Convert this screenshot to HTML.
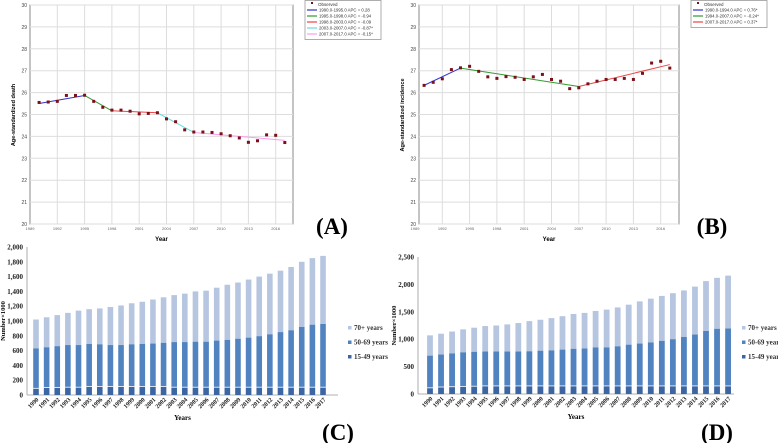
<!DOCTYPE html>
<html><head><meta charset="utf-8"><style>
body{margin:0;background:#fff;}
svg{display:block;font-family:"Liberation Sans",sans-serif;}
.serif{font-family:"Liberation Serif",serif;}
</style></head><body>
<svg id="fig" width="778" height="443" viewBox="0 0 778 443">
<rect x="0" y="0" width="778" height="443" fill="#fff"/>
<text x="332" y="234" class="serif" font-size="23" font-weight="bold" text-anchor="middle">(A)</text>
<text x="712" y="234" class="serif" font-size="23" font-weight="bold" text-anchor="middle">(B)</text>
<text x="338" y="440" class="serif" font-size="23" font-weight="bold" text-anchor="middle">(C)</text>
<text x="717" y="440" class="serif" font-size="23" font-weight="bold" text-anchor="middle">(D)</text>
</svg>
<script>
// ---- Panel A data ----
const yearsA = [1990,1991,1992,1993,1994,1995,1996,1997,1998,1999,2000,2001,2002,2003,2004,2005,2006,2007,2008,2009,2010,2011,2012,2013,2014,2015,2016,2017];
const deathA = [25.55,25.57,25.6,25.87,25.87,25.88,25.6,25.33,25.2,25.2,25.15,25.03,25.05,25.08,24.8,24.67,24.3,24.2,24.2,24.18,24.12,24.03,23.93,23.73,23.8,24.07,24.05,23.72];
const segYearsA = [[1990,1995],[1995,1998],[1998,2003],[2003,2007],[2007,2017]];
const segValsA = [[25.5,25.87],[25.87,25.17],[25.17,25.08],[25.08,24.18],[24.18,23.82]];
const segColorsA = ["#3333cc","#339933","#ee4444","#66dddd","#ff99ee"];
const legendA = ["1990.0-1995.0 APC  =  0.28","1995.0-1998.0 APC  = -0.94","1998.0-2003.0 APC  = -0.09","2003.0-2007.0 APC  = -0.87*","2007.0-2017.0 APC  = -0.15*"];
// ---- Panel B data ----
const yearsB = yearsA;
const incB = [26.33,26.47,26.63,27.05,27.13,27.2,26.97,26.72,26.65,26.73,26.7,26.6,26.72,26.83,26.6,26.52,26.18,26.22,26.4,26.52,26.6,26.6,26.65,26.6,26.88,27.35,27.43,27.12];
const segYearsB = [[1990,1994],[1994,2007],[2007,2017]];
const segValsB = [[26.33,27.12],[27.12,26.28],[26.28,27.28]];
const segColorsB = ["#3333cc","#339933","#ee4444"];
const legendB = ["1990.0-1994.0 APC  =  0.76*","1994.0-2007.0 APC  = -0.24*","2007.0-2017.0 APC  =  0.37*"];
const yTicksAB = [20,21,22,23,24,25,26,27,28,29,30];
const xTicksAB = [1989,1992,1995,1998,2001,2004,2007,2010,2013,2016];
// ---- Panel C data ----
const catsCD = yearsA;
const totalC = [1020,1050,1080,1110,1140,1160,1170,1190,1210,1240,1260,1290,1320,1350,1370,1400,1410,1450,1490,1520,1560,1600,1640,1680,1730,1800,1850,1880];
const mid50C = [630,645,660,675,675,690,685,675,675,685,690,695,705,715,715,720,720,735,745,760,775,795,820,850,875,920,950,960];
const young15C = [85,95,95,100,100,110,110,110,110,110,110,110,110,100,100,100,100,100,100,100,100,100,100,100,100,100,100,100];
const yTicksC = [0,200,400,600,800,1000,1200,1400,1600,1800,2000];
// ---- Panel D data ----
const totalD = [1070,1100,1140,1180,1210,1240,1250,1270,1295,1330,1355,1385,1420,1460,1480,1515,1540,1580,1630,1690,1740,1790,1840,1890,1960,2060,2120,2160];
const mid50D = [700,720,740,760,770,775,775,775,775,780,790,795,810,825,830,850,850,870,900,920,940,970,1000,1040,1085,1150,1190,1195];
const young15D = [105,120,125,130,135,140,140,140,140,140,140,140,140,140,140,140,140,140,140,140,140,140,140,140,140,140,140,140];
const yTicksD = [0,500,1000,1500,2000,2500];
const legendCD = ["70+ years","50-69 years","15-49 years"];
const colCD = ["#b7c6e0","#5083c0","#3c66a3"];

const svg = document.getElementById('fig');
const NS = "http://www.w3.org/2000/svg";
function mk(tag, attrs, text){const e=document.createElementNS(NS,tag);for(const k in attrs)e.setAttribute(k,attrs[k]);if(text!==undefined)e.textContent=text;svg.appendChild(e);return e;}
function fmt(v){return v.toLocaleString('en-US');}

function joinpoint(p){
  const xs=y=>p.x0+(y-1989)*9.1;
  const ys=v=>224-(v-20)*21.9;
  let e=mk('rect',{x:p.left,y:5,width:p.right-p.left,height:219,fill:'#fff',stroke:'#888','stroke-width':1});
  
  
  yTicksAB.forEach(t=>{
    let g=mk('line',{x1:p.left,x2:p.right,y1:ys(t),y2:ys(t),stroke:'#ddd','stroke-width':1});
    
    
    let l=mk('text',{x:p.left-3,y:ys(t)+2,'font-size':5,fill:'#444','text-anchor':'end'},String(t));
    
    
  });
  xTicksAB.forEach(t=>{
    if(xs(t)>p.left+1){
      let g=mk('line',{x1:xs(t),x2:xs(t),y1:5,y2:224,stroke:'#ddd','stroke-width':1});
      
      
    }
    let l=mk('text',{x:xs(t),y:230,'font-size':4,fill:'#666','text-anchor':'middle'},String(t));
    
    
  });
  let xt=mk('text',{x:(p.left+p.right)/2,y:241,'font-size':6,'font-weight':'bold','text-anchor':'middle'},'Year');
  
  
  let yt=mk('text',{x:0,y:0,'font-size':5.5,'font-weight':'bold','text-anchor':'middle',transform:`translate(${p.left-15},115) rotate(-90)`},p.ytitle);
  
  
  p.segY.forEach((s,i)=>{
    let ln=mk('line',{x1:xs(s[0]),x2:xs(s[1]),y1:ys(p.segV[i][0]),y2:ys(p.segV[i][1]),stroke:p.segC[i],'stroke-width':1});
    
    
  });
  p.years.forEach((y,i)=>{
    let pt=mk('rect',{x:xs(y)-1.5,y:ys(p.vals[i])-1.5,width:3,height:3,fill:'#7a1018'});
    
    
  });
  const lh=6, n=p.legend.length+1;
  let lb=mk('rect',{x:p.lx,y:0.5,width:76,height:n*lh+3,fill:'#fff',stroke:'#999','stroke-width':0.8});
  
  
  let om=mk('rect',{x:p.lx+6,y:2,width:2,height:2,fill:'#7a1018'});
  
  
  let ot=mk('text',{x:p.lx+13,y:6,'font-size':4.5,fill:'#333'},'Observed');
  
  
  p.legend.forEach((s,i)=>{
    const yy=6+(i+1)*lh-2;
    let sw=mk('line',{x1:p.lx+2,x2:p.lx+12,y1:yy,y2:yy,stroke:p.segC[i],'stroke-width':1.2});
    
    
    let tx=mk('text',{x:p.lx+14,y:yy+1.6,'font-size':4.3,fill:'#333'},s);
    
    
  });
}
joinpoint({id:'panel-a',x0:30,left:30,right:293,years:yearsA,vals:deathA,segY:segYearsA,segV:segValsA,segC:segColorsA,legend:legendA,lx:305,ytitle:'Age-standardized death'});
joinpoint({id:'panel-b',x0:415,left:419,right:679,years:yearsB,vals:incB,segY:segYearsB,segV:segValsB,segC:segColorsB,legend:legendB,lx:691,ytitle:'Age-standardized incidence'});

function stacked(p){
  const ys=v=>p.base-(v/p.ymax)*(p.base-p.top);
  const xs=i=>p.c0+i*p.step;
  p.ticks.forEach(t=>{
    let l=mk('text',{x:p.left-4,y:ys(t)+2.5,'font-size':7,'font-weight':'bold','text-anchor':'end',class:'serif',fill:'#222'},fmt(t));
    
    
  });
  let ax=mk('line',{x1:p.left,x2:p.left,y1:p.top,y2:p.base,stroke:'#999','stroke-width':0.8});
  
  
  let bx=mk('line',{x1:p.left,x2:p.right,y1:p.base,y2:p.base,stroke:'#999','stroke-width':0.8});
  
  
  const w=p.bw;
  catsCD.forEach((c,i)=>{
    const x=xs(i)-w/2;
    let r1=mk('rect',{x:x,y:ys(p.tot[i]),width:w,height:ys(p.mid[i])-ys(p.tot[i]),fill:colCD[0]});
    
    
    let r2=mk('rect',{x:x,y:ys(p.mid[i]),width:w,height:ys(p.yng[i])-ys(p.mid[i])-0.8,fill:colCD[1]});
    
    
    let r3=mk('rect',{x:x,y:ys(p.yng[i]),width:w,height:p.base-ys(p.yng[i]),fill:colCD[2]});
    
    
    let l=mk('text',{x:0,y:0,'font-size':6.2,'font-weight':'bold','text-anchor':'end',class:'serif',fill:'#222',transform:`translate(${xs(i)+3},${p.base+5}) rotate(-45)`},String(c));
    
    
  });
  let xt=mk('text',{x:(p.left+p.right)/2,y:p.base+25,'font-size':7,'font-weight':'bold','text-anchor':'middle',class:'serif'},'Years');
  
  
  let yt=mk('text',{x:0,y:0,'font-size':6.5,'font-weight':'bold','text-anchor':'middle',class:'serif',transform:`translate(${p.left-p.ytOff},${(p.top+p.base)/2}) rotate(-90)`},p.ytitle);
  
  
  legendCD.forEach((s,i)=>{
    const yy=p.ly+i*14.5;
    let sw=mk('rect',{x:p.lx,y:yy-3,width:3.5,height:3.5,fill:colCD[i]});
    
    
    let tx=mk('text',{x:p.lx+6,y:yy+1,'font-size':7,'font-weight':'bold',class:'serif',fill:'#333'},s);
    
    
  });
}
stacked({id:'panel-c',left:27,right:338,top:247,base:395,ymax:2000,c0:36,step:10.63,bw:5.6,tot:totalC,mid:mid50C,yng:young15C,ticks:yTicksC,ytitle:'Number×1000',ytOff:22,lx:348,ly:329});
stacked({id:'panel-d',left:418,right:734,top:257,base:394,ymax:2500,c0:430,step:11.04,bw:5.8,tot:totalD,mid:mid50D,yng:young15D,ticks:yTicksD,ytitle:'Number×1000',ytOff:22,lx:742,ly:329});
</script>
</body></html>
